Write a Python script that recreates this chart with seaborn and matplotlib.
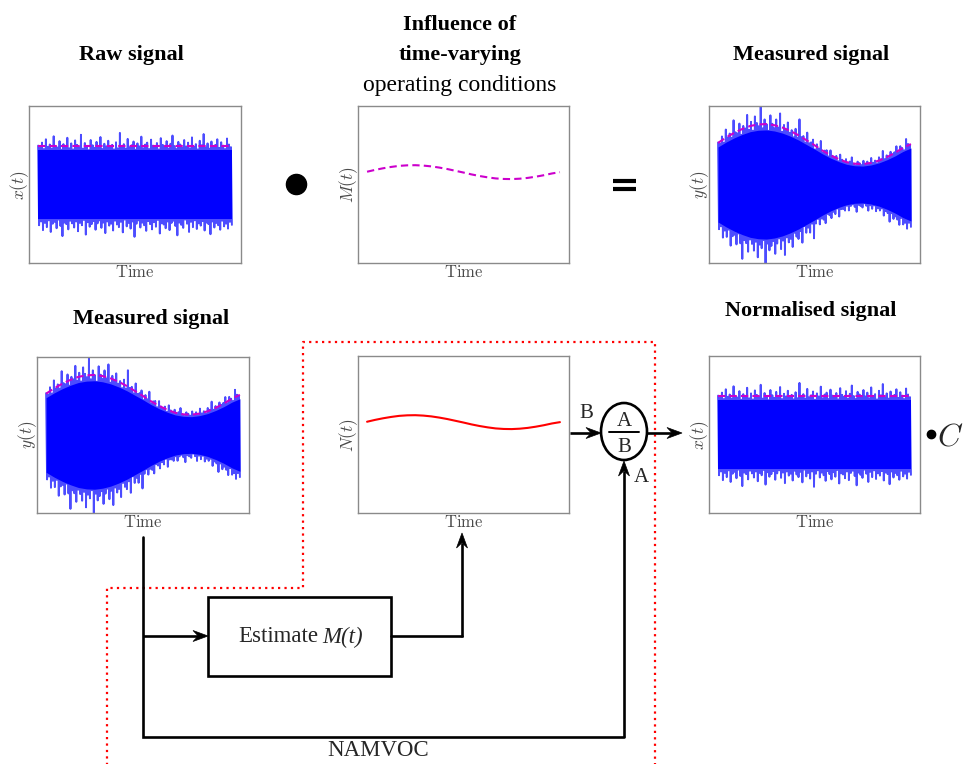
import numpy as np
import matplotlib
matplotlib.use("Agg")
import matplotlib.pyplot as plt
from matplotlib.patches import Ellipse, Polygon, Rectangle
import seaborn as sns

W, H = 967, 764

# ---- data -----------------------------------------------------------------
# Time axis of the records (normalised to 0..1)
mod_t = np.linspace(0.0, 1.0, 25)

# Amplitude modulation M(t) from the time-varying operating conditions
mod_vals = [1.08, 1.22, 1.34, 1.44, 1.52, 1.56, 1.57, 1.54, 1.48, 1.39, 1.28, 1.15,
            1.02, 0.88, 0.76, 0.66, 0.58, 0.54, 0.53, 0.56, 0.62, 0.71, 0.82, 0.95, 1.05]

# Estimated modulation N(t) returned by the estimator block
est_vals = [1.08, 1.22, 1.34, 1.44, 1.52, 1.56, 1.57, 1.54, 1.48, 1.39, 1.28, 1.15,
            1.02, 0.88, 0.76, 0.66, 0.58, 0.54, 0.53, 0.56, 0.62, 0.71, 0.82, 0.95, 1.05]

# Raw vibration signal: successive positive / negative peak magnitudes (percent of RMS level)
raw_peaks_up = [104, 98, 112, 95, 121, 101, 107, 96, 129, 103, 99, 116, 93, 108, 102, 125, 97, 110, 94, 118,
                106, 100, 133, 96, 111, 103, 92, 119, 105, 98, 114, 101, 127, 95, 109, 102, 117, 99, 106, 94,
                113, 97, 138, 103, 108, 96, 122, 100, 105, 115, 93, 110, 102, 128, 97, 107, 112, 95, 120, 104,
                99, 111, 94, 124, 106, 101, 116, 96, 109, 131, 103, 95, 114, 107, 98, 119, 102, 112, 97, 126,
                101, 108, 94, 117, 105, 135, 99, 110, 96, 115, 103, 106, 121, 98, 113, 104, 95, 123, 107, 100]
raw_peaks_down = [109, 99, 122, 103, 114, 96, 127, 105, 100, 117, 94, 111, 138, 102, 106, 120, 97, 104, 115, 99,
                  125, 103, 109, 95, 134, 101, 113, 106, 98, 121, 104, 96, 116, 102, 130, 99, 110, 105, 123, 97,
                  107, 114, 100, 128, 94, 112, 103, 118, 99, 140, 105, 96, 115, 102, 109, 124, 98, 106, 120, 101,
                  113, 95, 131, 104, 107, 117, 99, 122, 103, 97, 111, 136, 102, 108, 116, 94, 105, 127, 100, 114,
                  96, 119, 104, 110, 98, 123, 102, 106, 133, 99, 115, 103, 109, 121, 97, 112, 105, 118, 100, 108]
core_level = 0.93      # dense band of the raw signal
rms_level = 1.03       # dashed envelope level of the raw signal

# ---- derived signals ---------------------------------------------------------
n_pk = len(raw_peaks_up)
t_sig = np.linspace(0.0, 1.0, 2 * n_pk)
raw = np.empty(2 * n_pk)
raw[0::2] = np.array(raw_peaks_up) / 100.0
raw[1::2] = -np.array(raw_peaks_down) / 100.0

mod_arr = np.array(mod_vals)
est_arr = np.array(est_vals)
measured = raw * np.interp(t_sig, mod_t, mod_arr)
normalised = measured / np.interp(t_sig, mod_t, est_arr)
flat = np.ones_like(mod_arr)

# ---- style -----------------------------------------------------------------
sns.set_theme(style="white")
plt.rcParams["font.family"] = ["Liberation Serif", "DejaVu Serif"]
plt.rcParams["mathtext.fontset"] = "cm"

fig = plt.figure(figsize=(W / 100, H / 100), dpi=100)
fig.patch.set_facecolor("white")

FRAME = "#8a8a8a"
LABEL = "#4a4a4a"
panels = []


def panel(x0, y0, x1, y1, ylab):
    ax = fig.add_axes([x0 / W, 1 - y1 / H, (x1 - x0) / W, (y1 - y0) / H])
    for s in ax.spines.values():
        s.set_color(FRAME)
        s.set_linewidth(1.0)
    ax.set_xlim(-0.047, 1.047)
    panels.append((x0, y0, x1, y1, ylab))
    return ax


def finish(ax):
    ax.set_xticks([])
    ax.set_yticks([])
    ax.set_xlabel("")
    ax.set_ylabel("")


def signal_panel(ax, sig, env):
    ax.fill_between(mod_t, -core_level * env, core_level * env, color="blue", lw=0)
    sns.lineplot(x=t_sig, y=sig, ax=ax, color="blue", lw=1.4, alpha=0.7,
                 estimator=None, sort=False)
    sns.lineplot(x=mod_t, y=rms_level * env, ax=ax, color="#cc00cc", lw=1.5,
                 linestyle=(0, (3.5, 2.0)), estimator=None, sort=False)
    ax.set_ylim(-2.1, 2.1)
    finish(ax)


# Top row
ax = panel(29, 106, 241, 263, r"$x(t)$")
signal_panel(ax, raw, flat)

ax = panel(358, 106, 569, 263, r"$M(t)$")
sns.lineplot(x=mod_t, y=mod_arr, ax=ax, color="#cc00cc", lw=1.5,
             linestyle=(0, (3.5, 2.0)), estimator=None, sort=False)
ax.set_ylim(-5.75, 6.0)
finish(ax)

ax = panel(709, 106, 920, 263, r"$y(t)$")
signal_panel(ax, measured, mod_arr)

# Bottom row
ax = panel(37, 357, 249, 513, r"$y(t)$")
signal_panel(ax, measured, mod_arr)

ax = panel(358, 356, 569, 513, r"$N(t)$")
sns.lineplot(x=mod_t, y=est_arr, ax=ax, color="red", lw=1.5, estimator=None, sort=False)
ax.set_ylim(-5.75, 6.0)
finish(ax)

ax = panel(709, 356, 920, 513, r"$x(t)$")
signal_panel(ax, normalised, flat)

# ---- block diagram overlay ---------------------------------------------------
ov = fig.add_axes([0, 0, 1, 1], zorder=10)
ov.set_xlim(0, W)
ov.set_ylim(H, 0)
ov.axis("off")
ov.patch.set_alpha(0)

# axis labels of the panels
for x0, y0, x1, y1, ylab in panels:
    ov.text((x0 + x1) / 2, y1 + 10, r"$\mathrm{Time}$", ha="center", va="center",
            fontsize=12, color=LABEL)
    ov.text(x0 - 9, (y0 + y1) / 2, ylab, ha="center", va="center", rotation=90,
            fontsize=12.5, color=LABEL)

TITLE = dict(ha="center", va="center", fontsize=16, fontweight="bold", color="black")
ov.text(131, 55, "Raw signal", **TITLE)
ov.text(460, 25, "Influence of", **TITLE)
ov.text(460, 55, "time-varying", **TITLE)
ov.text(460, 85, "operating conditions", ha="center", va="center", fontsize=17, color="black")
ov.text(811, 55, "Measured signal", **TITLE)
ov.text(151, 319, "Measured signal", **TITLE)
ov.text(811, 311, "Normalised signal", **TITLE)

# multiplication dot and equals sign
ov.plot([296], [184], marker="o", ms=14.5, color="black", ls="none")
ov.plot([613, 636], [180.5, 180.5], color="black", lw=3.0, solid_capstyle="butt")
ov.plot([613, 636], [188.5, 188.5], color="black", lw=3.0, solid_capstyle="butt")

# red dotted region
ov.plot([107, 107, 303, 303, 655, 655], [770, 588, 588, 342, 342, 770],
        color="red", lw=1.6, linestyle=(0, (1, 1.9)), dash_capstyle="butt")

LW = 1.9


def arrow(x0, y0, x1, y1, L=15.0, hw=5.5, notch=0.35):
    d = np.array([x1 - x0, y1 - y0], float)
    d /= np.hypot(*d)
    n = np.array([-d[1], d[0]])
    tip = np.array([x1, y1], float)
    back = tip - d * L
    nt = tip - d * L * (1 - notch)
    ov.plot([x0, nt[0]], [y0, nt[1]], color="black", lw=LW, solid_capstyle="butt")
    ov.add_patch(Polygon([tip, back + n * hw, nt, back - n * hw], closed=True,
                         facecolor="black", edgecolor="black", lw=0.5))


# signal path
ov.plot([143, 143, 624], [537, 737, 737], color="black", lw=LW, solid_joinstyle="miter")
arrow(624, 737, 624, 461)
arrow(143, 636, 208, 636)
ov.add_patch(Rectangle((208, 597), 183, 79, fill=False, edgecolor="black", lw=LW))
ov.text(318, 637, "Estimate", ha="right", va="center", fontsize=16.5)
ov.text(322, 637, "M(t)", ha="left", va="center", fontsize=16.5, style="italic")
ov.plot([391, 462], [636, 636], color="black", lw=LW)
arrow(462, 637, 462, 533)

# divider block
ov.add_patch(Ellipse((624, 431.5), 46, 57, fill=False, edgecolor="black", lw=LW))
ov.plot([609, 639], [432, 432], color="black", lw=1.4)
ov.text(624, 421, "A", ha="center", va="center", fontsize=15)
ov.text(624, 447, "B", ha="center", va="center", fontsize=15)
arrow(570, 433, 601, 433)
arrow(647, 433, 682, 433)
ov.text(586, 413, "B", ha="center", va="center", fontsize=15)
ov.text(641, 478, "A", ha="center", va="center", fontsize=15)

ov.text(378, 750, "NAMVOC", ha="center", va="center", fontsize=16.5)

# scaling constant
ov.plot([931], [434], marker="o", ms=6, color="black", ls="none")
ov.text(937, 446, r"$C$", fontsize=23, ha="left", va="baseline")

fig.savefig("out.png", dpi=100, facecolor="white")
